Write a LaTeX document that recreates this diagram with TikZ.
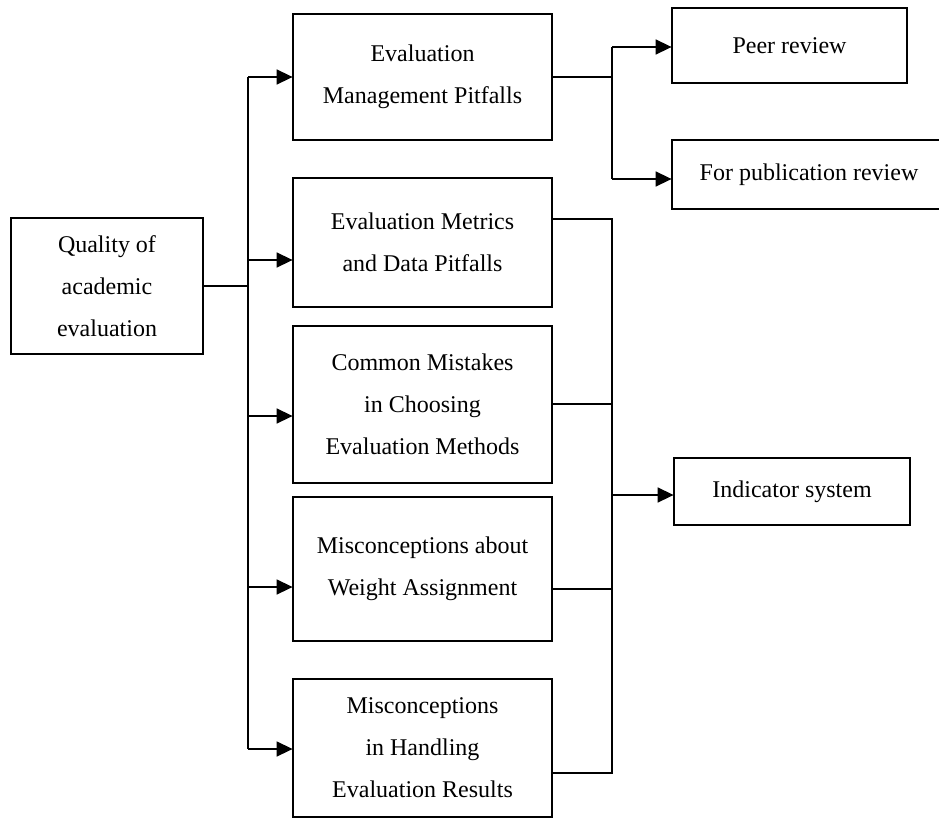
\documentclass[tikz,border=0pt]{standalone}
\usepackage{fontspec}
\setmainfont{Liberation Serif}
\usetikzlibrary{arrows.meta,calc}

\tikzset{
  box/.style={draw, line width=2.8pt, rectangle, inner sep=0pt, align=center,
    font=\fontsize{24}{42}\selectfont},
  conn/.style={draw, line width=1.5pt},
  arr/.style={conn, -{Triangle[length=16pt,width=15pt]}, shorten >=-1pt}
}

\begin{document}
\begin{tikzpicture}[x=1pt,y=-1pt]
\useasboundingbox (0,0) rectangle (939,819);

% main topic
\node[box, minimum width=192, minimum height=136] (q) at (107,286)
  {Quality of\\academic\\evaluation};

% pitfall categories
\node[box, minimum width=259, minimum height=126] (b1) at (422.5,77)
  {Evaluation\\Management Pitfalls};
\node[box, minimum width=259, minimum height=129] (b2) at (422.5,242.5)
  {Evaluation Metrics\\and Data Pitfalls};
\node[box, minimum width=259, minimum height=157] (b3) at (422.5,404.5)
  {Common Mistakes\\in Choosing\\Evaluation Methods};
\node[box, minimum width=259, minimum height=144] (b4) at (422.5,569)
  {Misconceptions about\\Weight Assignment};
\node[box, minimum width=259, minimum height=138] (b5) at (422.5,748)
  {Misconceptions\\in Handling\\Evaluation Results};

% outcomes
\node[box, minimum width=235, minimum height=75] (peer) at (789.5,45.5)
  {Peer review};
\node[box, minimum width=274, minimum height=69] (pub) at (809,174.5)
  {For publication review};
\node[box, minimum width=236, minimum height=67] (ind) at (792,491.5)
  {Indicator system};

% left bus
\coordinate (jl) at (248,286);
\coordinate (ltop) at (248,77);
\coordinate (lbot) at (248,749);
\draw[conn] (q.east) -- (jl);
\draw[conn] (ltop) -- (lbot);
\draw[arr] (ltop) -- (b1.west);
\draw[arr] (jl |- 0,260) -- ($(b2.west)+(0,17.5)$);
\draw[arr] (jl |- 0,416) -- ($(b3.west)+(0,11.5)$);
\draw[arr] (jl |- 0,587) -- ($(b4.west)+(0,18)$);
\draw[arr] (lbot) -- ($(b5.west)+(0,1)$);

% upper right bus
\coordinate (ut) at (612,47);
\coordinate (ub) at (612,179);
\draw[conn] (b1.east) -- (612,77);
\draw[conn] (ut) -- (ub);
\draw[arr] (ut) -- ($(peer.west)+(0,1.5)$);
\draw[arr] (ub) -- ($(pub.west)+(0,4.5)$);

% lower right bus
\coordinate (rt) at (612,219);
\coordinate (rb) at (612,773);
\draw[conn] ($(b2.east)+(0,-23.5)$) -- (rt) -- (rb) -- ($(b5.east)+(0,25)$);
\draw[conn] ($(b3.east)+(0,-0.5)$) -- (rt |- 0,404);
\draw[conn] ($(b4.east)+(0,20)$) -- (rt |- 0,589);
\draw[arr] (rt |- 0,495) -- ($(ind.west)+(0,3.5)$);
\end{tikzpicture}
\end{document}
